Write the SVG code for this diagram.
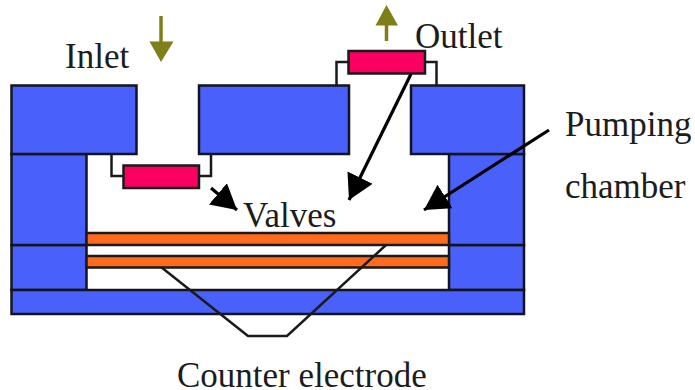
<svg xmlns="http://www.w3.org/2000/svg" width="695" height="390" viewBox="0 0 695 390">
<style>
.b{fill:#4a60fb;stroke:#14141e;stroke-width:2.5}
.o{fill:#ff6a1c;stroke:#1a1a1a;stroke-width:2.5}
.v{fill:#fb0060;stroke:#1a1a1a;stroke-width:2.5}
.w{fill:none;stroke:#1a1a1a;stroke-width:2.5}
.k{fill:none;stroke:#000;stroke-width:3.2}
.ol{fill:none;stroke:#7f7f1a;stroke-width:3.5}
.t{font-family:"Liberation Serif","Times New Roman",serif;font-size:35px;fill:#1c1c1c}
</style>
<defs>
<marker id="ah" markerUnits="userSpaceOnUse" markerWidth="30" markerHeight="30" refX="25" refY="14" orient="auto"><path d="M0 0L25 14L0 28z" fill="#000"/></marker>
</defs>
<rect width="695" height="390" fill="#fff"/>
<g id="body">
<rect class="b" x="11.500" y="245" width="75" height="45"/>
<rect class="b" x="449" y="245" width="75" height="45"/>
<rect class="b" x="11.500" y="154" width="75" height="91"/>
<rect class="b" x="449" y="154" width="75" height="91"/>
<rect class="b" x="11.500" y="290" width="512.500" height="24"/>
<rect class="b" x="11.500" y="85.500" width="125" height="68.500"/>
<rect class="b" x="199" y="85.500" width="150" height="68.500"/>
<rect class="b" x="411" y="85.500" width="113" height="68.500"/>
</g>
<g id="membrane">
<rect class="o" x="86.500" y="233" width="362.500" height="12"/>
<rect class="o" x="86.500" y="256" width="362.500" height="11.500"/>
</g>
<g id="inlet-valve">
<path class="w" d="M111.500 154V176H123M199 176H211V154"/>
<rect class="v" x="123.500" y="165.500" width="75.500" height="22.500"/>
</g>
<g id="outlet-valve">
<path class="w" d="M336.500 85V62H348M425 62H436.500V85"/>
<rect class="v" x="348.500" y="51" width="76.500" height="22.500"/>
</g>
<g id="connectors">
<path class="ol" d="M161 16V44"/>
<path d="M149.500 41.500H173.500L161 62z" fill="#7f7f1a"/>
<path class="ol" d="M386.500 41V22"/>
<path d="M375.500 25.500H398L386.500 5z" fill="#7f7f1a"/>
<path class="k" d="M211 188L237 210" marker-end="url(#ah)"/>
<path class="k" d="M411 74L349 200" marker-end="url(#ah)"/>
<path class="k" d="M549 130L424 210" marker-end="url(#ah)"/>
<path class="w" d="M161 267L248 336H287L386 245"/>
</g>
<g id="labels">
<text class="t" x="65" y="68">Inlet</text>
<text class="t" x="415" y="48">Outlet</text>
<text class="t" x="565" y="136">Pumping</text>
<text class="t" x="565" y="198">chamber</text>
<text class="t" x="243" y="227">Valves</text>
<text class="t" x="177" y="387">Counter electrode</text>
</g>
</svg>
